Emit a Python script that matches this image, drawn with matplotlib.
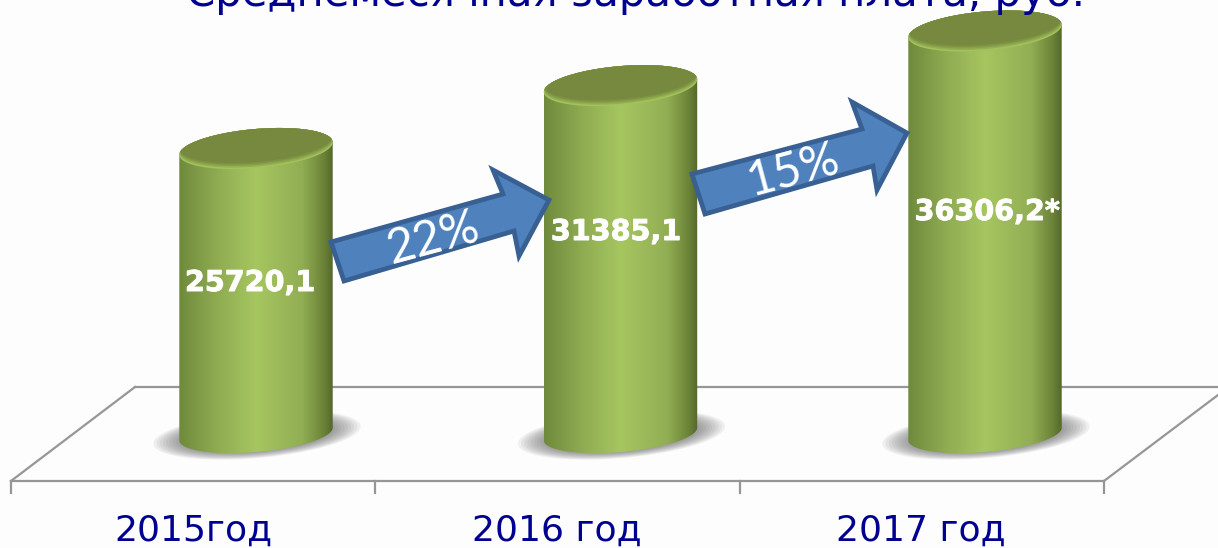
#!/usr/bin/env python3
import matplotlib
matplotlib.use("Agg")
import matplotlib.pyplot as plt
import matplotlib.patheffects as pe
import numpy as np
from matplotlib.colors import LinearSegmentedColormap
from matplotlib.patches import Polygon
from matplotlib.transforms import Affine2D

years = ["2015год", "2016 год", "2017 год"]
salary = [25720.1, 31385.1, 36306.2]
salary_labels = ["25720,1", "31385,1", "36306,2*"]
growth_labels = ["22%", "15%"]
title = "Среднемесячная заработная плата, руб."

W, H = 1218, 548
STEP = 364.5          # px per category
SCALE = 0.0111        # px per rouble
X0, Y0 = 256, 434     # pixel position of category 0, value 0

BG = "#fefdfe"
NAVY = "#000090"
GRID = "#969696"

side_cmap = LinearSegmentedColormap.from_list(
    "side", [(0, "#6f8a3c"), (0.25, "#8fac52"), (0.5, "#a6c660"),
             (0.8, "#92ae54"), (0.94, "#6c8438"), (1, "#55682c")])


def sx(p):
    return p / STEP


def sy(p):
    return p / SCALE


def ellipse(cx, cy, a, b, t, tilt=np.radians(5)):
    x = a * np.cos(t) * np.cos(tilt) - b * np.sin(t) * np.sin(tilt)
    y = a * np.cos(t) * np.sin(tilt) + b * np.sin(t) * np.cos(tilt)
    return np.column_stack([cx + sx(x), cy + sy(y)])


def draw_shadow(ax, i):
    t = np.linspace(0, 2 * np.pi, 120)
    for k in np.linspace(1, 0.6, 14):
        pts = ellipse(i + sx(1), sy(-1), 104 * k, 23 * k, t)
        ax.add_patch(Polygon(pts, fc="#4a4a4a", ec="none", alpha=0.075, zorder=2))


def draw_cylinder(ax, i, value):
    a, b = 77, 19.5
    bottom = ellipse(i, 0, a, 18, np.linspace(np.pi, 2 * np.pi, 80))
    top = ellipse(i, value, a, b, np.linspace(0, np.pi, 80))
    body = Polygon(np.vstack([bottom, top]), closed=True, fc="none", ec="none")
    ax.add_patch(body)
    grad = np.linspace(0, 1, 256).reshape(1, -1)
    im = ax.imshow(grad, cmap=side_cmap, aspect="auto", zorder=3,
                   extent=(i - sx(a), i + sx(a), sy(-30), value + sy(30)))
    im.set_clip_path(body)

    # top face: light rim on the front edge fading into the dark lid
    t = np.linspace(0, 2 * np.pi, 160)
    outer = Polygon(ellipse(i, value, a, b, t), fc="#a2c25c", ec="none", zorder=4)
    ax.add_patch(outer)
    for shift, col in [(1.5, "#95ae52"), (3, "#87a04a"), (4.5, "#7d9243"), (6, "#76893f")]:
        lid = Polygon(ellipse(i, value + sy(shift), a - 0.5, b, t), fc=col, ec="none", zorder=4)
        ax.add_patch(lid)
        lid.set_clip_path(outer)


fig = plt.figure(figsize=(W / 100, H / 100), dpi=100, facecolor=BG)
ax = fig.add_axes([0, 0, 1, 1])
ax.set_facecolor(BG)
px = Affine2D().scale(1, -1).translate(0, H)  # reference pixels to display

# floor of the 3d chart
ax.plot([135, 1218], [387, 387], color=GRID, lw=1.6, transform=px, zorder=1)
ax.plot([11, 1104], [481, 481], color=GRID, lw=1.6, transform=px, zorder=1)
ax.plot([11, 135], [481, 387], color=GRID, lw=1.6, transform=px, zorder=1)
ax.plot([1104, 1218], [481, 395], color=GRID, lw=1.6, transform=px, zorder=1)
for tx in [11, 375, 740, 1104]:
    ax.plot([tx, tx], [481, 493], color=GRID, lw=1.6, transform=px, zorder=1)

for i, v in enumerate(salary):
    draw_shadow(ax, i)
    draw_cylinder(ax, i, v)

ax.set_xlim(-X0 / STEP, (W - X0) / STEP)
ax.set_ylim(-(H - Y0) / SCALE, Y0 / SCALE)
ax.axis("off")

# value labels
label_xy = [(250, 283), (616, 232), (987, 212)]
for (x, y), lab in zip(label_xy, salary_labels):
    ax.text(x, y, lab, transform=px, color="white", fontsize=20.6, fontweight="bold",
            family="DejaVu Sans", ha="center", va="center", zorder=6,
            path_effects=[pe.withStroke(linewidth=0.7, foreground="white")])

# growth arrows
arrows = [
    [(331, 242), (503, 194), (493, 170), (549, 200), (519, 256), (514, 231), (344, 281)],
    [(692, 174), (862, 129), (852, 102), (907, 133), (877, 190), (873, 166), (705, 214)],
]
for pts in arrows:
    ax.add_patch(Polygon(pts, closed=True, fc="#4f81bd", ec="#386092", lw=3.4,
                         joinstyle="miter", transform=px, zorder=5))
pct_pos = [(433, 238), (793, 170)]
for (x, y), lab in zip(pct_pos, growth_labels):
    ax.text(x, y, lab, transform=px, color="white", fontsize=34.5, family="Lato",
            rotation=15, rotation_mode="anchor", ha="center", va="center", zorder=6)

# category labels and cut-off title
for x, lab in zip([193, 557, 921], years):
    ax.text(x, 531, lab, transform=px, color=NAVY, fontsize=26, family="DejaVu Sans",
            ha="center", va="center", zorder=6)
ax.text(636, 6, title, transform=px, color=NAVY, fontsize=30.2, family="DejaVu Sans",
        ha="center", va="baseline", zorder=6, clip_on=False)

fig.savefig("out.png", dpi=100, facecolor=BG)
